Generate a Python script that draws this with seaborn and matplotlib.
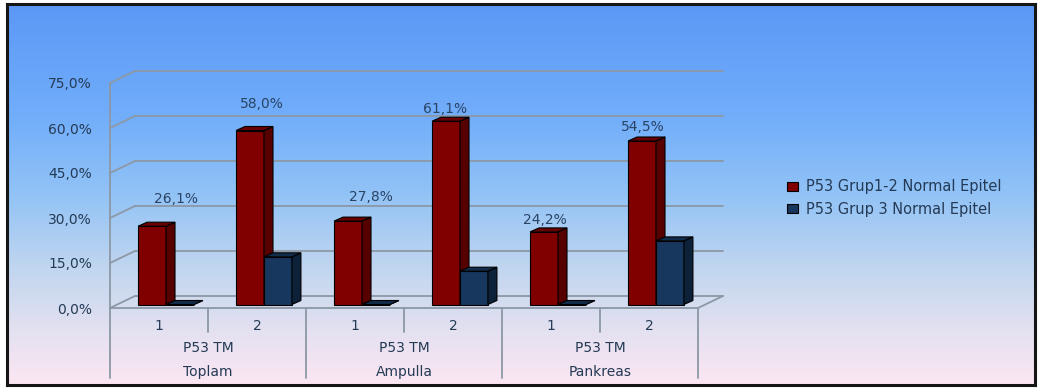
import numpy as np
import pandas as pd
import matplotlib
matplotlib.use("Agg")
import matplotlib.pyplot as plt
from matplotlib.patches import Polygon, Patch
from matplotlib.lines import Line2D
from matplotlib.transforms import IdentityTransform, ScaledTranslation
from matplotlib.colors import LinearSegmentedColormap
from matplotlib.ticker import FuncFormatter
import seaborn as sns

# ---- data -------------------------------------------------------------
groups = ["Toplam", "Ampulla", "Pankreas"]
group_subtitle = "P53 TM"
levels = ["1", "2"]
series = ["P53 Grup1-2 Normal Epitel", "P53 Grup 3 Normal Epitel"]
grup12 = [26.1, 58.0, 27.8, 61.1, 24.2, 54.5]
grup3 = [0.0, 15.9, 0.0, 11.1, 0.0, 21.2]
y_ticks = [0, 15, 30, 45, 60, 75]

cats = [f"{g} {l}" for g in groups for l in levels]
df = pd.DataFrame({
    "kategori": cats * 2,
    "oran": grup12 + grup3,
    "seri": [series[0]] * len(cats) + [series[1]] * len(cats),
})

# ---- style ------------------------------------------------------------
sns.set_style("white")
plt.rcParams["font.family"] = ["DejaVu Sans"]

RED, RED_SIDE, RED_TOP = "#800000", "#560000", "#6a0000"
NAVY, NAVY_SIDE, NAVY_TOP = "#17375e", "#0d2139", "#122c4b"
TEXT = "#243a55"
GRID = "#8c98a5"
FS = 10

BAR_SHIFT = (7, 3.5)    # bars sit a little behind the front plane (px)
BAR_DEPTH = (9, 4)      # depth of each bar (px)
WALL_DEPTH = (25, 12)   # depth of the floor / back wall (px)
# value label offsets from the top of each bar (px)
label_offsets = [(31, 30.5), (19, 29.5), (30, 27.5), (6, 15.5), (8, 15.5), (8, 17.5)]

W, H = 1040, 389
fig = plt.figure(figsize=(W / 100, H / 100), dpi=100, facecolor="white")

# framed gradient background
bg = fig.add_axes([7 / W, 4 / H, 1028 / W, 381 / H], zorder=0)
cmap = LinearSegmentedColormap.from_list(
    "bg",
    [(0.0, "#5b98f6"), (0.30, "#72aefa"), (0.50, "#92c3f6"),
     (0.70, "#c2d6ef"), (0.86, "#e4e1f1"), (1.0, "#fce6f3")])
grad = np.linspace(0, 1, 256)[:, None]
bg.imshow(grad, aspect="auto", cmap=cmap, extent=[0, 1, 0, 1], origin="upper")
bg.set_xticks([])
bg.set_yticks([])
for s in bg.spines.values():
    s.set_color("#151515")
    s.set_linewidth(2.2)

# plotting axes = front plane of the chart box
ax = fig.add_axes([110 / W, 81 / H, 588 / W, 225 / H], zorder=1)
ax.patch.set_alpha(0)

sns.barplot(data=df, x="kategori", y="oran", hue="seri", order=cats,
            hue_order=series, palette=[RED, NAVY], width=0.57, saturation=1,
            edgecolor="black", linewidth=0.8, legend=False, ax=ax)

ax.set_xlim(-0.5, len(cats) - 0.5)
ax.set_ylim(0, 75)
ax.set_xlabel("")
ax.set_ylabel("")
ax.set_xticks([])
ax.set_yticks(y_ticks)
ax.yaxis.set_major_formatter(FuncFormatter(lambda v, _: f"{v:.1f}%".replace(".", ",")))
ax.tick_params(axis="y", length=3, width=1.2, color=GRID, pad=10,
               labelsize=FS, labelcolor=TEXT)
ax.grid(False)
for side in ("top", "right"):
    ax.spines[side].set_visible(False)
for side in ("left", "bottom"):
    ax.spines[side].set_color(GRID)
    ax.spines[side].set_linewidth(1.3)


def px(x, y, dx=0.0, dy=0.0):
    X, Y = ax.transData.transform((x, y))
    return np.array([X + dx, Y + dy])


def seg(p, q, **kw):
    ax.add_line(Line2D([p[0], q[0]], [p[1], q[1]], transform=IdentityTransform(),
                       clip_on=False, **kw))


x0, x1 = -0.5, len(cats) - 0.5
wx, wy = WALL_DEPTH
# back wall gridlines and left wall diagonals
for v in y_ticks:
    seg(px(x0, v, wx, wy), px(x1, v, wx, wy), color=GRID, lw=1.3, zorder=0.5)
    seg(px(x0, v), px(x0, v, wx, wy), color=GRID, lw=1.3, zorder=0.5)
# right edge of the floor
seg(px(x1, 0), px(x1, 0, wx, wy), color=GRID, lw=1.3, zorder=0.5)

# category separators below the floor
for i in range(len(cats) + 1):
    xb = i - 0.5
    depth = 70 if i % 2 == 0 else 24
    p = px(xb, 0)
    seg(p, p - np.array([0, depth]), color=GRID, lw=1.3, zorder=0.5)

# pseudo-3D bars: shift the seaborn faces back, then add side and top faces
shift = ScaledTranslation(BAR_SHIFT[0] / 100, BAR_SHIFT[1] / 100, fig.dpi_scale_trans)
faces = [(RED_SIDE, RED_TOP, 2), (NAVY_SIDE, NAVY_TOP, 3)]
sx, sy = BAR_SHIFT
D = np.array(BAR_DEPTH)
for cont, (side_c, top_c, z) in zip(ax.containers, faces):
    for bar in cont:
        bar.set_transform(ax.transData + shift)
        bar.set_zorder(z)
        bar.set_clip_on(False)
        x, w, h = bar.get_x(), bar.get_width(), bar.get_height()
        br, tr, tl = px(x + w, 0, sx, sy), px(x + w, h, sx, sy), px(x, h, sx, sy)
        ax.add_patch(Polygon([br, tr, tr + D, br + D], closed=True,
                             transform=IdentityTransform(), facecolor=side_c,
                             edgecolor="black", lw=0.8, zorder=z + 0.1, clip_on=False))
        ax.add_patch(Polygon([tl, tr, tr + D, tl + D], closed=True,
                             transform=IdentityTransform(), facecolor=top_c,
                             edgecolor="black", lw=0.8, zorder=z + 0.1, clip_on=False))

# value labels for the first series
for bar, val, (dx, dy) in zip(ax.containers[0], grup12, label_offsets):
    cx = bar.get_x() + bar.get_width() / 2
    ax.annotate(f"{val:.1f}%".replace(".", ","), xy=(cx, val), xycoords="data",
                xytext=(dx, dy), textcoords="offset pixels", ha="center",
                va="center", fontsize=FS, color="#2a4466", annotation_clip=False,
                zorder=5)

# category axis: level numbers, subtitle and group names
xa = ax.get_xaxis_transform()
for i, cat in enumerate(cats):
    ax.annotate(levels[i % 2], xy=(i, 0), xycoords=xa, xytext=(0, -18),
                textcoords="offset pixels", ha="center", va="center",
                fontsize=FS, color=TEXT, annotation_clip=False)
for g_i, g in enumerate(groups):
    cx = 2 * g_i + 0.5
    ax.annotate(group_subtitle, xy=(cx, 0), xycoords=xa, xytext=(0, -40),
                textcoords="offset pixels", ha="center", va="center",
                fontsize=FS, color=TEXT, annotation_clip=False)
    ax.annotate(g, xy=(cx, 0), xycoords=xa, xytext=(0, -64),
                textcoords="offset pixels", ha="center", va="center",
                fontsize=FS, color=TEXT, annotation_clip=False)

# legend
handles = [Patch(facecolor=RED, edgecolor="black", lw=0.8),
           Patch(facecolor=NAVY, edgecolor="black", lw=0.8)]
fig.legend(handles=handles, labels=series, loc="center left",
           bbox_to_anchor=(787 / W, 1 - 198 / H), frameon=False, fontsize=10.5,
           handlelength=0.75, handleheight=0.55, handletextpad=0.55,
           labelspacing=0.5, labelcolor=TEXT, borderpad=0, borderaxespad=0)

fig.savefig("out.png", dpi=100, facecolor="white")
